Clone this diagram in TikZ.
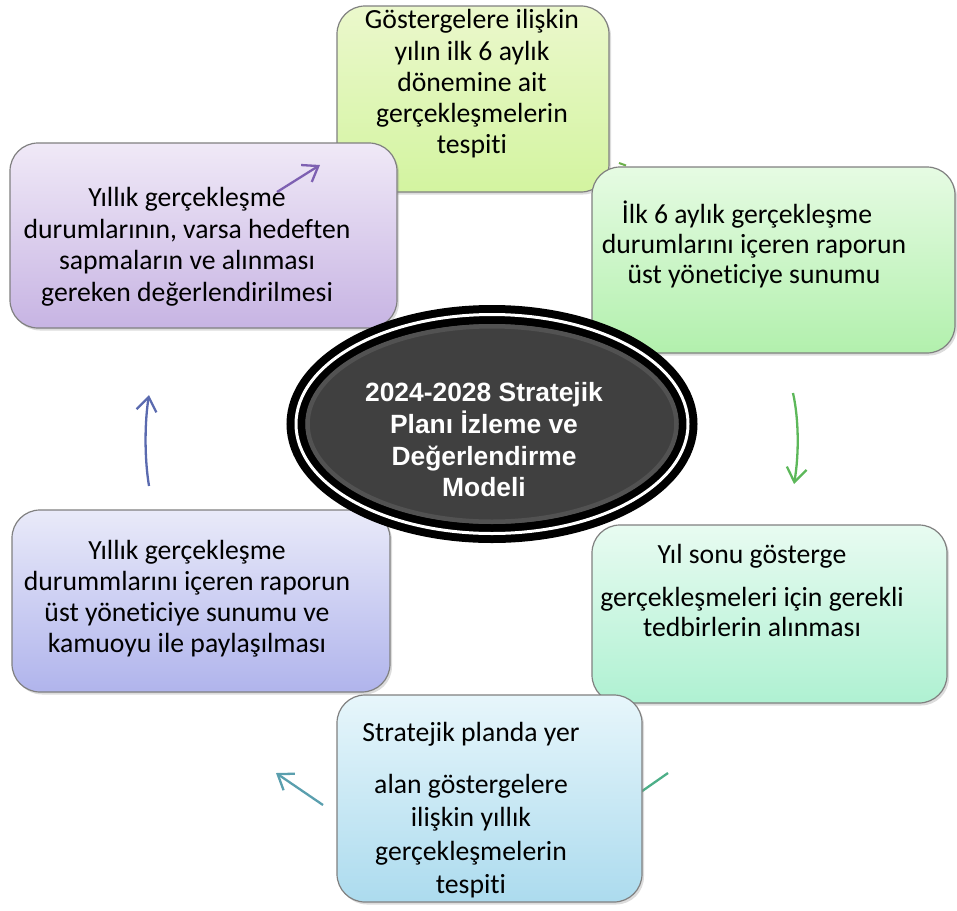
\documentclass[tikz,border=0pt]{standalone}
\usepackage{fontspec}
\setmainfont{Carlito}[Ligatures={NoCommon}]
\newfontfamily\centerfont{Liberation Sans}
\usetikzlibrary{arrows.meta,shapes.geometric,shadows}
\definecolor{tTop}{HTML}{EBF8CC}\definecolor{tBot}{HTML}{D3F4A0}
\definecolor{rtTop}{HTML}{E6FBE3}\definecolor{rtBot}{HTML}{B2F0AD}
\definecolor{rbTop}{HTML}{E8FBF1}\definecolor{rbBot}{HTML}{AFF1D2}
\definecolor{bTop}{HTML}{E7F6FB}\definecolor{bBot}{HTML}{ACDBEE}
\definecolor{lbTop}{HTML}{E9EAF9}\definecolor{lbBot}{HTML}{B0B4EC}
\definecolor{ltTop}{HTML}{F0E9F7}\definecolor{ltBot}{HTML}{C7B4E3}
\definecolor{ellFill}{HTML}{404040}\definecolor{ellBand}{HTML}{525252}
\definecolor{arPurple}{HTML}{7E60B2}\definecolor{arGreen}{HTML}{5DB85A}
\definecolor{arTeal}{HTML}{4DAF88}\definecolor{arCyan}{HTML}{5A9FAE}
\definecolor{arBlue}{HTML}{5A6AAF}\definecolor{arTiny}{HTML}{6BB04A}
\tikzset{
  boxshape/.style={rectangle, rounded corners=28pt, draw=black!50, line width=1.2pt,
    inner sep=0pt, drop shadow={shadow xshift=2pt, shadow yshift=-2.5pt, opacity=0.28}},
  boxtext/.style={align=center, inner sep=0pt, font=\fontsize{27.7}{31}\selectfont},
  arr/.style={line width=2.3pt, -{Straight Barb[length=14pt,width=20pt]}},
}
\begin{document}
\lineskiplimit=-60pt
\begin{tikzpicture}[x=1pt,y=-1pt]
\useasboundingbox (0,0) rectangle (957,910);
% hidden connector pieces (behind boxes)
\coordinate (h1s) at (619,163); \coordinate (h1e) at (626,165.5);
\draw[arTiny, line width=2pt] (h1s) -- (h1e);
\coordinate (h2s) at (668,773); \coordinate (h2e) at (615,810);
\draw[arTeal, line width=2.3pt] (h2s) -- (h2e);
% boxes
\node[boxshape, top color=tTop, bottom color=tBot, minimum width=272pt, minimum height=186pt] (bT) at (473,99) {};
\node[boxtext, font=\fontsize{27.7}{31.3}\selectfont] (tT) at (472,84) {Göstergelere ilişkin\\yılın ilk 6 aylık\\dönemine ait\\gerçekleşmelerin\\tespiti};
\node[boxshape, top color=ltTop, bottom color=ltBot, minimum width=387pt, minimum height=185pt] (bLT) at (203.5,235.5) {};
\node[boxtext, font=\fontsize{27.7}{31.5}\selectfont] (tLT) at (187,247) {Yıllık gerçekleşme\\durumlarının, varsa hedeften\\sapmaların ve alınması\\gereken değerlendirilmesi};
\node[boxshape, top color=rtTop, bottom color=rtBot, minimum width=363pt, minimum height=186pt] (bRT) at (773.5,260) {};
\node[boxtext, font=\fontsize{27.7}{30}\selectfont] (tRT) at (754,244) {İlk 6 aylık gerçekleşme\hspace*{14pt}\\durumlarını içeren raporun\\üst yöneticiye sunumu};
\node[boxshape, top color=lbTop, bottom color=lbBot, minimum width=378pt, minimum height=182pt] (bLB) at (201,601) {};
\node[boxtext] (tLB) at (187,599) {Yıllık gerçekleşme\\durummlarını içeren raporun\\üst yöneticiye sunumu ve\\kamuoyu ile paylaşılması};
\node[boxshape, top color=rbTop, bottom color=rbBot, minimum width=355pt, minimum height=178pt] (bRB) at (769.5,614) {};
\node[boxtext, font=\fontsize{27.7}{30}\selectfont] (tRB) at (752,590) {Yıl sonu gösterge\\[13pt]gerçekleşmeleri için gerekli\\tedbirlerin alınması};
\node[boxshape, top color=bTop, bottom color=bBot, minimum width=305pt, minimum height=207pt] (bB) at (489.5,798.5) {};
\node[boxtext, font=\fontsize{27.7}{33.5}\selectfont] (tB) at (471,810.5) {Stratejik planda yer\\[18pt]alan göstergelere\hspace*{26pt}\\ilişkin yıllık\\gerçekleşmelerin\\tespiti};
% central ellipse
\node[ellipse, minimum width=392pt, minimum height=219pt, inner sep=0pt, draw=black,
  line width=8pt, double=white, double distance=3pt, fill=ellFill] (c) at (492,424) {};
\draw[ellBand, line width=4.5pt] (c.center) ellipse [x radius=184.5pt, y radius=97.75pt];
\node[align=center, inner sep=0pt, text=white,
  font=\centerfont\bfseries\fontsize{26.4}{31.7}\selectfont] (ct) at (484,440)
  {2024-2028 Stratejik\\Planı İzleme ve\\Değerlendirme\\Modeli};
% visible connectors
\coordinate (a1s) at (277,192); \coordinate (a1e) at (320,165);
\draw[arr, arPurple] (a1s) -- (a1e);
\coordinate (a2s) at (793,393); \coordinate (a2e) at (794,484);
\draw[arr, arGreen] (a2s) .. controls (799,420) and (799,455) .. (a2e);
\coordinate (a3s) at (323,805); \coordinate (a3e) at (276,773);
\draw[arr, arCyan] (a3s) -- (a3e);
\coordinate (a4s) at (149,486); \coordinate (a4e) at (149,395);
\draw[arr, arBlue] (a4s) .. controls (144,455) and (145,420) .. (a4e);
\end{tikzpicture}
\end{document}
